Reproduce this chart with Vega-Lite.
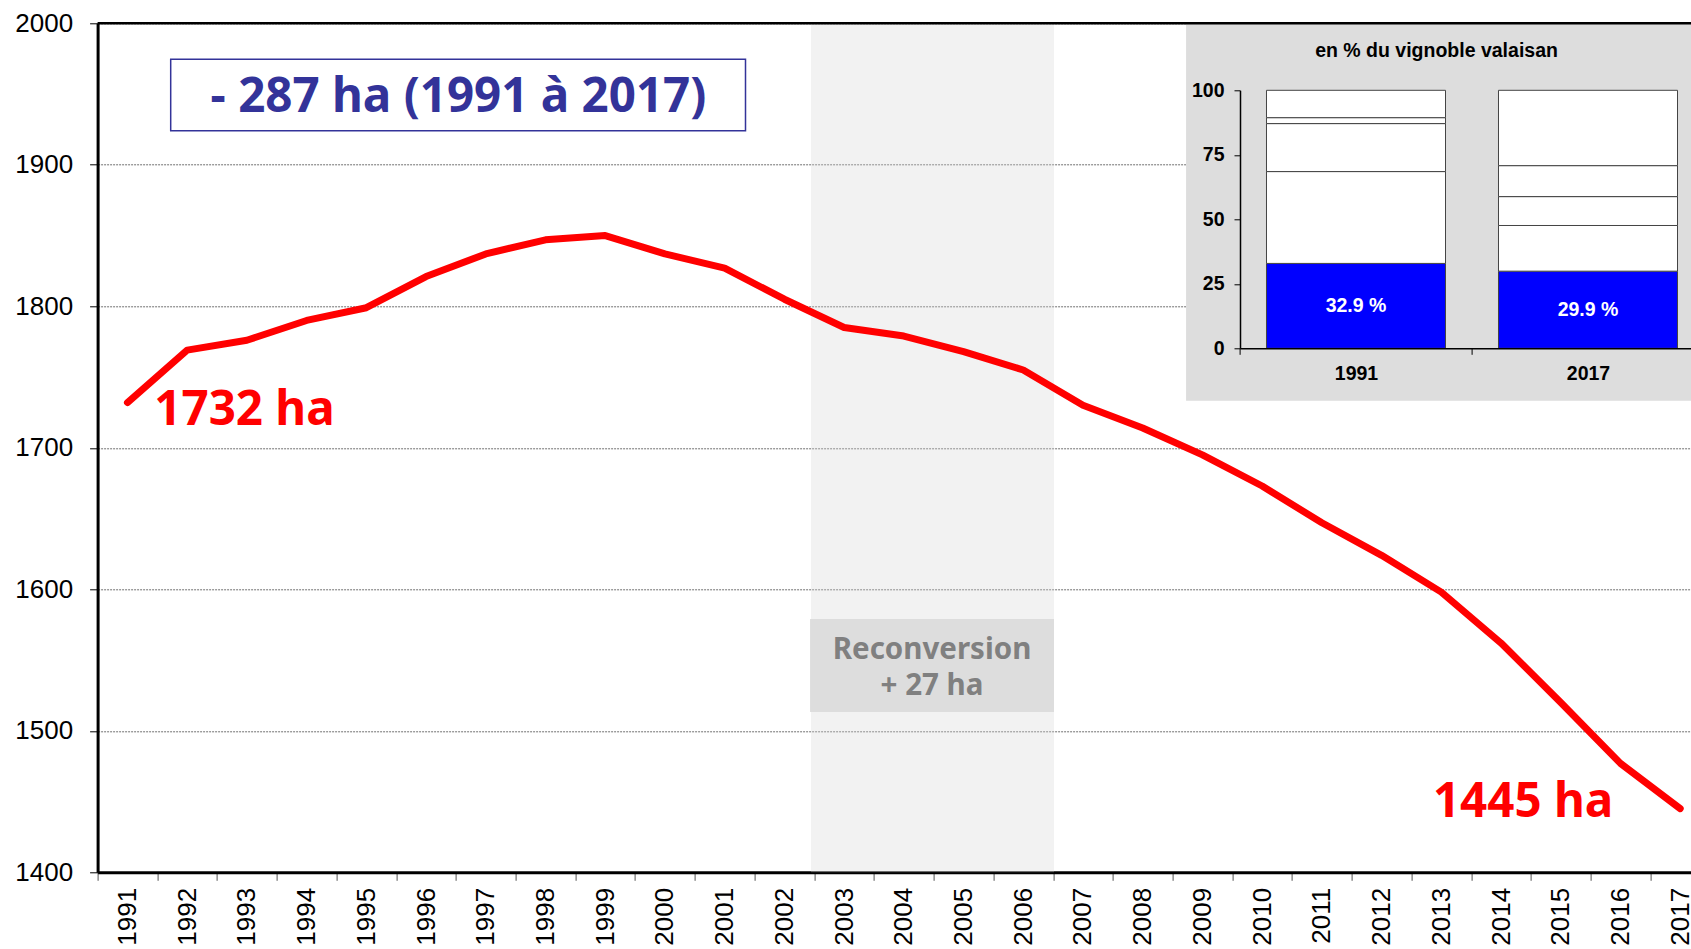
{
  "$schema": "https://vega.github.io/schema/vega-lite/v6.json",
  "width": 1593.4,
  "height": 849,
  "autosize": {"type": "none"},
  "padding": {"left": 97.6, "top": 23.3, "right": 0, "bottom": 76.7},
  "background": "white",
  "config": {"view": {"stroke": null}, "font": "Liberation Sans"},
  "datasets": {
    "surface": [
      {"annee": 1991, "ha": 1732}, {"annee": 1992, "ha": 1769}, {"annee": 1993, "ha": 1776},
      {"annee": 1994, "ha": 1790}, {"annee": 1995, "ha": 1799}, {"annee": 1996, "ha": 1821},
      {"annee": 1997, "ha": 1837}, {"annee": 1998, "ha": 1847}, {"annee": 1999, "ha": 1850},
      {"annee": 2000, "ha": 1837}, {"annee": 2001, "ha": 1827}, {"annee": 2002, "ha": 1805},
      {"annee": 2003, "ha": 1785}, {"annee": 2004, "ha": 1779}, {"annee": 2005, "ha": 1768},
      {"annee": 2006, "ha": 1755}, {"annee": 2007, "ha": 1730}, {"annee": 2008, "ha": 1714},
      {"annee": 2009, "ha": 1695}, {"annee": 2010, "ha": 1673}, {"annee": 2011, "ha": 1647},
      {"annee": 2012, "ha": 1624}, {"annee": 2013, "ha": 1598}, {"annee": 2014, "ha": 1562},
      {"annee": 2015, "ha": 1520}, {"annee": 2016, "ha": 1477}, {"annee": 2017, "ha": 1445}
    ],
    "part": [
      {"an": "1991", "segment": 1, "pct": 32.9, "label": "32.9 %"},
      {"an": "1991", "segment": 2, "pct": 35.6, "label": ""},
      {"an": "1991", "segment": 3, "pct": 18.6, "label": ""},
      {"an": "1991", "segment": 4, "pct": 2.3, "label": ""},
      {"an": "1991", "segment": 5, "pct": 10.6, "label": ""},
      {"an": "2017", "segment": 1, "pct": 29.9, "label": "29.9 %"},
      {"an": "2017", "segment": 2, "pct": 17.7, "label": ""},
      {"an": "2017", "segment": 3, "pct": 11.2, "label": ""},
      {"an": "2017", "segment": 4, "pct": 12.0, "label": ""},
      {"an": "2017", "segment": 5, "pct": 29.2, "label": ""}
    ]
  },
  "layer": [
    {
      "layer": [
        {
          "data": {"values": [{"zone": "reconversion"}]},
          "mark": {"type": "rect", "fill": "#d4d4d4", "opacity": 0.3},
          "encoding": {
            "x": {"datum": 2002.446}, "x2": {"datum": 2006.515},
            "y": {"datum": 1400}, "y2": {"datum": 2000}
          }
        },
        {
          "data": {"values": [{"zone": "reconversion"}]},
          "mark": {"type": "rect", "fill": "#DDDDDD"},
          "encoding": {
            "x": {"datum": 2002.43}, "x2": {"datum": 2006.515},
            "y": {"datum": 1513.3}, "y2": {"datum": 1579.0}
          }
        },
        {
          "data": {"values": [{"label": ["Reconversion", "+ 27 ha"]}]},
          "mark": {"type": "text", "font": "Noto Sans", "fontWeight": "bold", "fontSize": 29.5, "color": "#808080", "align": "center", "baseline": "alphabetic", "lineHeight": 36},
          "encoding": {
            "x": {"datum": 2004.472}, "y": {"datum": 1551.0},
            "text": {"field": "label"}
          }
        },
        {
          "data": {"values": [{"zone": "titre"}]},
          "mark": {"type": "rect", "fill": "white", "stroke": "#333399", "strokeWidth": 1.5},
          "encoding": {
            "x": {"datum": 1991.724}, "x2": {"datum": 2001.349},
            "y": {"datum": 1924.1}, "y2": {"datum": 1974.56}
          }
        },
        {
          "data": {"values": [{"label": "- 287 ha (1991 à 2017)"}]},
          "mark": {"type": "text", "font": "Noto Sans", "fontWeight": "bold", "fontSize": 47.5, "color": "#333399", "align": "center", "baseline": "alphabetic"},
          "encoding": {
            "x": {"datum": 1996.543}, "y": {"datum": 1937.53},
            "text": {"field": "label"}
          }
        },
        {
          "data": {"name": "surface"},
          "mark": {"type": "line", "color": "#FF0000", "strokeWidth": 7, "strokeCap": "round", "strokeJoin": "round"},
          "encoding": {
            "x": {
              "field": "annee", "type": "quantitative", "title": null,
              "scale": {"domain": [1990.5, 2017.181], "nice": false, "zero": false},
              "axis": {
                "values": [1991,1992,1993,1994,1995,1996,1997,1998,1999,2000,2001,2002,2003,2004,2005,2006,2007,2008,2009,2010,2011,2012,2013,2014,2015,2016,2017],
                "format": "d", "labelAngle": -90, "labelFontSize": 26, "labelColor": "black",
                "labelFont": "Liberation Sans", "labelPadding": 7, "labelFlush": false, "labelOverlap": false,
                "tickOffset": -29.86, "labelOffset": 29.86, "tickSize": 8, "tickColor": "#555", "tickWidth": 1,
                "domainColor": "black", "domainWidth": 3, "grid": false, "title": null
              }
            },
            "y": {
              "field": "ha", "type": "quantitative", "title": null,
              "scale": {"domain": [1400, 2000], "nice": false, "zero": false},
              "axis": {
                "values": [1400, 1500, 1600, 1700, 1800, 1900, 2000], "format": "d",
                "labelFontSize": 26, "labelColor": "black", "labelFont": "Liberation Sans",
                "labelPadding": 17, "labelFlush": false, "tickSize": 8, "tickColor": "black", "tickWidth": 1,
                "domainColor": "black", "domainWidth": 3,
                "grid": true, "gridColor": "#707070", "gridDash": [2, 1], "gridWidth": 1, "title": null
              }
            }
          }
        },
        {
          "data": {"values": [{"label": "1732 ha"}]},
          "mark": {"type": "text", "font": "Noto Sans", "fontWeight": "bold", "fontSize": 47.5, "color": "#FF0000", "align": "left", "baseline": "alphabetic"},
          "encoding": {
            "x": {"datum": 1991.45}, "y": {"datum": 1716.1},
            "text": {"field": "label"}
          }
        },
        {
          "data": {"values": [{"label": "1445 ha"}]},
          "mark": {"type": "text", "font": "Noto Sans", "fontWeight": "bold", "fontSize": 47.5, "color": "#FF0000", "align": "left", "baseline": "alphabetic"},
          "encoding": {
            "x": {"datum": 2012.86}, "y": {"datum": 1439.3},
            "text": {"field": "label"}
          }
        },
        {
          "data": {"values": [{"zone": "encart"}]},
          "mark": {"type": "rect", "fill": "#DDDDDD"},
          "encoding": {
            "x": {"datum": 2008.726}, "x2": {"datum": 2017.181},
            "y": {"datum": 1733.3}, "y2": {"datum": 2000}
          }
        },
        {
          "data": {"values": [{"label": "en % du vignoble valaisan"}]},
          "mark": {"type": "text", "font": "Liberation Sans", "fontWeight": "bold", "fontSize": 19.5, "color": "black", "align": "center", "baseline": "alphabetic"},
          "encoding": {
            "x": {"datum": 2012.92}, "y": {"datum": 1975.97},
            "text": {"field": "label"}
          }
        },
        {
          "data": {"values": [{"zone": "cadre"}]},
          "mark": {"type": "rule", "color": "black", "strokeWidth": 2.6},
          "encoding": {"y": {"datum": 2000}}
        }
      ]
    },
    {
      "data": {"name": "part"},
      "layer": [
        {
          "mark": {"type": "bar", "stroke": "#444", "strokeWidth": 1},
          "encoding": {
            "x": {
              "field": "an", "type": "nominal", "sort": null, "title": null,
              "scale": {"range": [1142.4, 1606.4], "paddingInner": 0.2284, "paddingOuter": 0.1142},
              "axis": {
                "orient": "bottom", "offset": -524, "zindex": 2, "labelAngle": 0,
                "labelFont": "Liberation Sans", "labelFontWeight": "bold", "labelFontSize": 19.5, "labelColor": "black",
                "labelPadding": 10, "tickOffset": -116, "labelOffset": 116, "tickSize": 6, "tickColor": "black",
                "domainColor": "black", "domainWidth": 1.5, "title": null
              }
            },
            "y": {
              "field": "pct", "type": "quantitative", "stack": "zero", "title": null,
              "scale": {"domain": [0, 100], "range": [325, 67], "nice": false},
              "axis": {
                "orient": "left", "offset": -1142.4, "zindex": 2, "values": [0, 25, 50, 75, 100],
                "labelFont": "Liberation Sans", "labelFontWeight": "bold", "labelFontSize": 19.5, "labelColor": "black",
                "labelPadding": 10, "labelFlush": false, "tickSize": 6, "tickColor": "black",
                "domainColor": "black", "domainWidth": 1.5, "grid": false, "title": null
              }
            },
            "color": {
              "field": "segment", "type": "nominal",
              "scale": {"domain": [1, 2, 3, 4, 5], "range": ["#0000FF", "#FFFFFF", "#FFFFFF", "#FFFFFF", "#FFFFFF"]},
              "legend": null
            },
            "order": {"field": "segment", "type": "quantitative"}
          }
        },
        {
          "transform": [{"filter": "datum.segment == 1"}],
          "mark": {"type": "text", "color": "white", "font": "Liberation Sans", "fontWeight": "bold", "fontSize": 19.5, "baseline": "middle", "align": "center"},
          "encoding": {
            "x": {"field": "an", "type": "nominal", "sort": null},
            "y": {"field": "pct", "type": "quantitative", "scale": {"domain": [0, 200], "range": [325, 67], "nice": false}, "axis": null},
            "text": {"field": "label"}
          }
        }
      ],
      "resolve": {"scale": {"y": "independent"}}
    }
  ],
  "resolve": {
    "scale": {"x": "independent", "y": "independent"},
    "axis": {"x": "independent", "y": "independent"}
  }
}
